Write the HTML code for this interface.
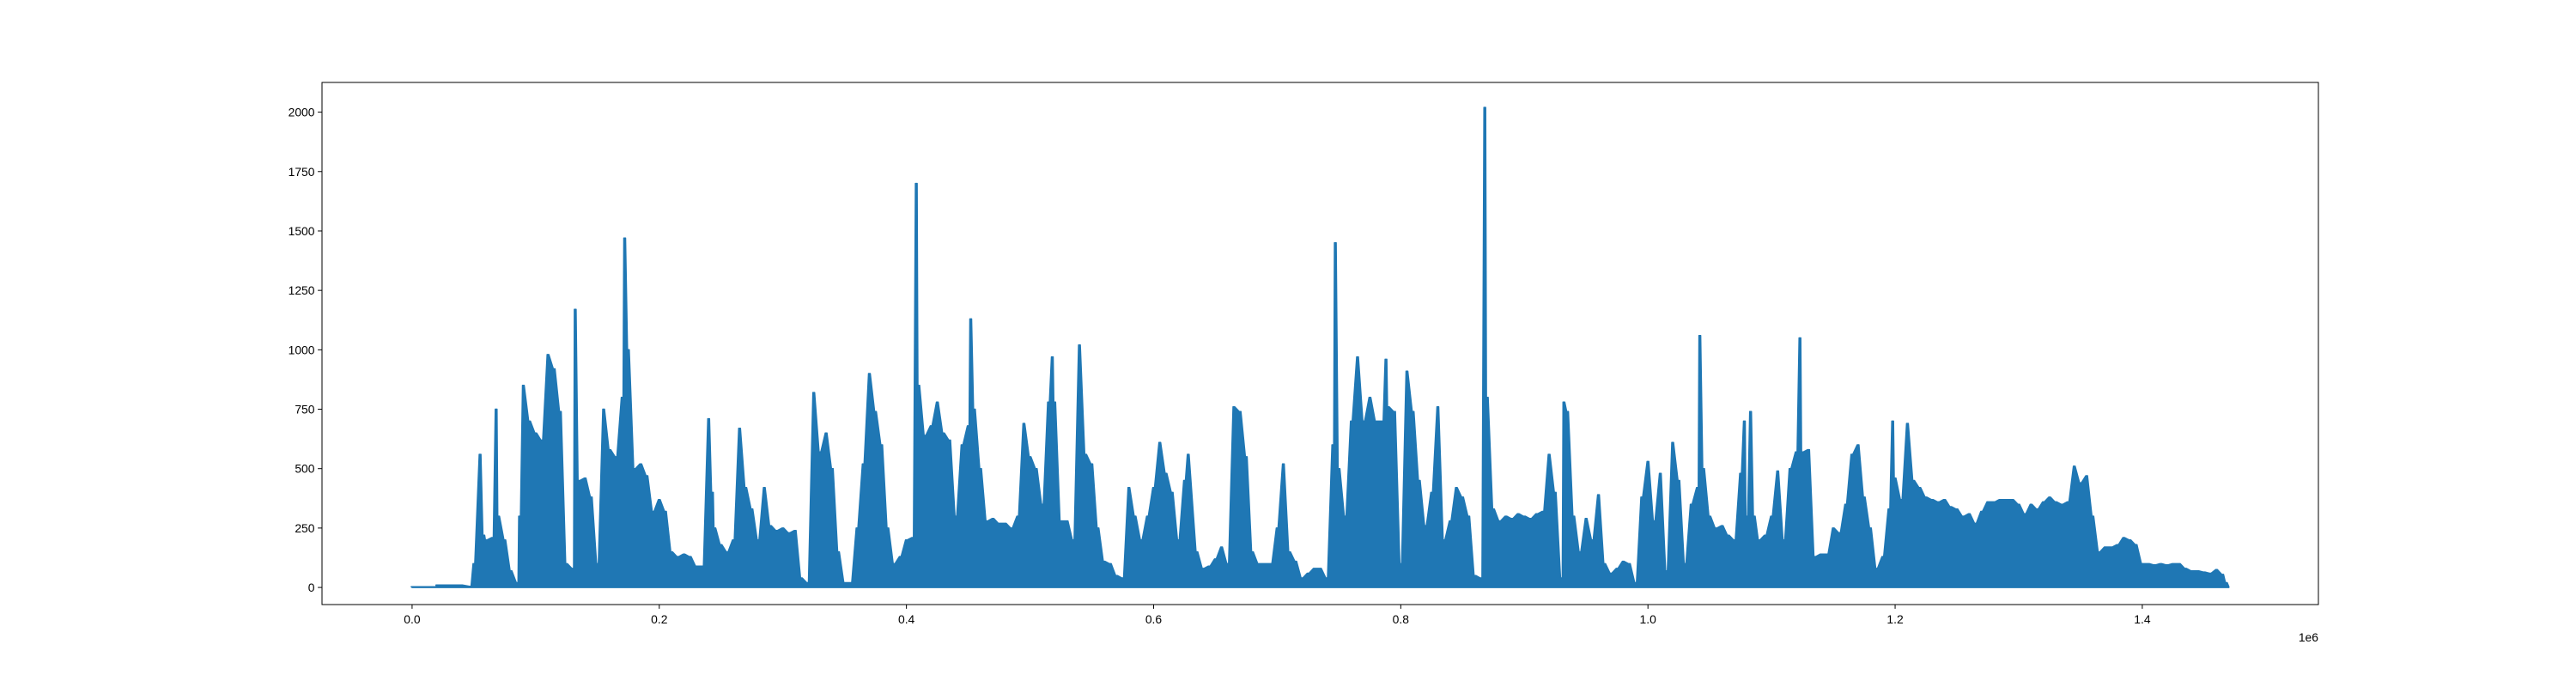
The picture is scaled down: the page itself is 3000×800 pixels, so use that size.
<!DOCTYPE html>
<html><head><meta charset="utf-8">
<style>
html,body{margin:0;padding:0;background:#fff;}
svg{display:block;}
text{font-family:"Liberation Sans","DejaVu Sans",sans-serif;font-size:13.9px;fill:#000;}
</style></head>
<body>
<svg id="chart" width="3000" height="800" viewBox="0 0 3000 800" xmlns="http://www.w3.org/2000/svg">
<rect x="0" y="0" width="3000" height="800" fill="#fff"/>
<g id="plot"></g>
<g id="axes"></g>
</svg>
<script>
const sampleX = [0,0.019,0.02,0.04,0.047,0.05,0.055,0.058,0.06,0.065,0.068,0.07,0.075,0.08,0.085,0.087,0.09,0.095,0.1,0.105,0.11,0.115,0.12,0.125,0.13,0.132,0.135,0.14,0.145,0.15,0.155,0.16,0.165,0.17,0.172,0.175,0.18,0.185,0.19,0.195,0.2,0.205,0.21,0.215,0.22,0.225,0.23,0.235,0.24,0.243,0.245,0.25,0.255,0.26,0.265,0.27,0.275,0.28,0.285,0.29,0.295,0.3,0.305,0.31,0.315,0.32,0.325,0.33,0.335,0.34,0.345,0.35,0.355,0.36,0.365,0.37,0.375,0.38,0.385,0.39,0.395,0.4,0.405,0.408,0.41,0.415,0.42,0.425,0.43,0.435,0.44,0.445,0.45,0.452,0.455,0.46,0.465,0.47,0.475,0.48,0.485,0.49,0.495,0.5,0.505,0.51,0.515,0.518,0.52,0.525,0.53,0.535,0.54,0.545,0.55,0.555,0.56,0.565,0.57,0.575,0.58,0.585,0.59,0.595,0.6,0.605,0.61,0.615,0.62,0.625,0.628,0.635,0.64,0.645,0.65,0.655,0.66,0.665,0.67,0.675,0.68,0.685,0.69,0.695,0.7,0.705,0.71,0.715,0.72,0.725,0.73,0.735,0.74,0.745,0.747,0.75,0.755,0.76,0.765,0.77,0.775,0.78,0.785,0.788,0.79,0.795,0.8,0.805,0.81,0.815,0.82,0.825,0.83,0.835,0.84,0.845,0.85,0.855,0.86,0.865,0.868,0.87,0.875,0.88,0.885,0.89,0.895,0.9,0.905,0.91,0.915,0.92,0.925,0.93,0.932,0.935,0.94,0.945,0.95,0.955,0.96,0.965,0.97,0.975,0.98,0.985,0.99,0.995,1.0,1.005,1.01,1.015,1.02,1.025,1.03,1.035,1.04,1.042,1.045,1.05,1.055,1.06,1.065,1.07,1.075,1.078,1.08,1.083,1.086,1.09,1.095,1.1,1.105,1.11,1.115,1.12,1.123,1.125,1.13,1.135,1.14,1.145,1.15,1.155,1.16,1.165,1.17,1.175,1.18,1.185,1.19,1.195,1.198,1.2,1.205,1.21,1.215,1.22,1.225,1.23,1.235,1.24,1.245,1.25,1.255,1.26,1.265,1.27,1.275,1.28,1.285,1.29,1.295,1.3,1.305,1.31,1.315,1.32,1.325,1.33,1.335,1.34,1.345,1.35,1.355,1.36,1.365,1.37,1.375,1.38,1.385,1.39,1.395,1.4,1.405,1.41,1.415,1.42,1.425,1.43,1.435,1.44,1.445,1.45,1.455,1.46,1.465,1.468];
const sampleY = [3,3,10,10,5,100,560,220,200,210,750,300,200,70,20,300,850,700,650,620,980,920,740,100,80,1170,450,460,380,100,750,580,550,800,1470,1000,500,520,470,320,370,320,150,130,140,130,90,90,710,400,250,180,150,200,670,420,330,200,420,260,240,250,230,240,40,20,820,570,650,500,150,20,20,250,520,900,740,600,250,100,130,200,210,1700,850,640,680,780,650,620,300,600,680,1130,750,500,280,290,270,270,250,300,690,550,500,350,780,970,780,280,280,200,1020,560,520,250,110,100,50,40,420,300,200,300,420,610,480,400,200,450,560,150,80,90,120,170,100,760,740,550,150,100,100,100,250,520,150,110,40,60,80,80,40,600,1450,500,300,700,970,700,800,700,700,960,760,740,100,910,740,450,260,400,760,200,280,420,380,300,50,40,2020,800,330,280,300,290,310,300,290,310,320,560,400,40,780,740,300,150,290,200,390,100,60,80,110,100,20,380,530,280,480,70,610,450,100,350,420,1060,500,300,250,260,220,200,480,700,300,740,300,200,220,300,490,200,500,570,1050,570,580,130,140,140,250,230,350,560,600,380,250,80,130,330,700,460,370,690,450,420,380,370,360,370,340,330,300,310,270,320,360,360,370,370,370,350,310,350,330,360,380,360,350,360,510,440,470,300,150,170,170,180,210,200,180,100,100,95,100,95,100,100,80,70,70,65,60,75,55,20];
const yTicks = [0,250,500,750,1000,1250,1500,1750,2000];
const xTicks = [0,0.2,0.4,0.6,0.8,1.0,1.2,1.4];
const xTickLabels = ["0.0","0.2","0.4","0.6","0.8","1.0","1.2","1.4"];
const xEnd = 1.47;

const L=375,R=2700,T=96,B=704;
const xMin=-0.0729,xMax=1.5425,yMin=-72,yMax=2125;
function sx(v){return L+(v-xMin)/(xMax-xMin)*(R-L);}
function sy(v){return B-(v-yMin)/(yMax-yMin)*(B-T);}
const NS="http://www.w3.org/2000/svg";
const plot=document.getElementById('plot');
const axes=document.getElementById('axes');

let d="M"+sx(sampleX[0]).toFixed(1)+","+sy(0).toFixed(1);
for(let i=0;i<sampleX.length;i++){
  const xc=sx(sampleX[i]);
  const y=sy(sampleY[i]);
  d+=" L"+(xc-1).toFixed(1)+","+y.toFixed(1)+" L"+(xc+1).toFixed(1)+","+y.toFixed(1);
}
d+=" L"+sx(xEnd).toFixed(1)+","+sy(3).toFixed(1)+" L"+sx(xEnd).toFixed(1)+","+sy(0).toFixed(1)+" Z";
const area=document.createElementNS(NS,'path');
area.setAttribute('d',d);
area.setAttribute('fill','#1f77b4');
area.setAttribute('stroke','#1f77b4');
area.setAttribute('stroke-width','1.5');
area.setAttribute('stroke-linejoin','round');


plot.appendChild(area);

const frame=document.createElementNS(NS,'rect');
frame.setAttribute('x',L);frame.setAttribute('y',T);
frame.setAttribute('width',R-L);frame.setAttribute('height',B-T);
frame.setAttribute('fill','none');frame.setAttribute('stroke','#000');frame.setAttribute('stroke-width','1');


axes.appendChild(frame);

yTicks.forEach(v=>{
  const y=sy(v);
  const t=document.createElementNS(NS,'line');
  t.setAttribute('x1',L-4.9);t.setAttribute('x2',L);t.setAttribute('y1',y);t.setAttribute('y2',y);
  t.setAttribute('stroke','#000');t.setAttribute('stroke-width','1');
  
  
  axes.appendChild(t);
  const lb=document.createElementNS(NS,'text');
  lb.setAttribute('x',L-8.5);lb.setAttribute('y',y+5);lb.setAttribute('text-anchor','end');
  lb.textContent=String(v);
  
  
  axes.appendChild(lb);
});
xTicks.forEach((v,i)=>{
  const x=sx(v);
  const t=document.createElementNS(NS,'line');
  t.setAttribute('x1',x);t.setAttribute('x2',x);t.setAttribute('y1',B);t.setAttribute('y2',B+4.9);
  t.setAttribute('stroke','#000');t.setAttribute('stroke-width','1');
  
  
  axes.appendChild(t);
  const lb=document.createElementNS(NS,'text');
  lb.setAttribute('x',x);lb.setAttribute('y',B+22);lb.setAttribute('text-anchor','middle');
  lb.textContent=xTickLabels[i];
  
  
  axes.appendChild(lb);
});
const off=document.createElementNS(NS,'text');
off.setAttribute('x',R);off.setAttribute('y',B+43);off.setAttribute('text-anchor','end');
off.textContent='1e6';


axes.appendChild(off);
</script>
</body></html>
